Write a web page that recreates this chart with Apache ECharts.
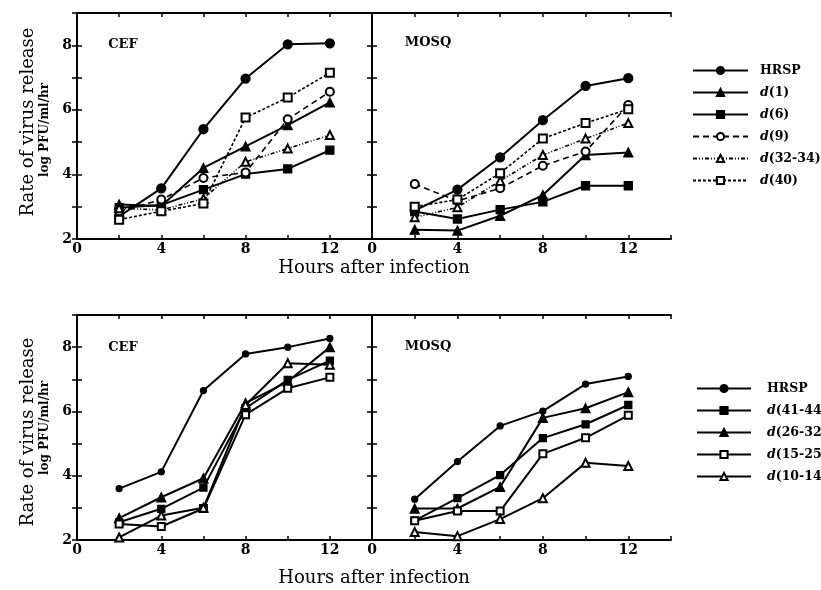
<!DOCTYPE html>
<html>
<head>
<meta charset="utf-8">
<script src="https://cdn.jsdelivr.net/npm/echarts@6/dist/echarts.min.js"></script>
<style>html,body{margin:0;padding:0;background:#fff}#c{width:821px;height:590px}</style>
</head>
<body>
<div id="c"></div>
<script>
// ---------- data ----------
const hours = [2, 4, 6, 8, 10, 12];
const xTickLabels = [0, 4, 8, 12];
const yTickLabels = [2, 4, 6, 8];

// Top row series names
const topNames = ['HRSP', 'd(1)', 'd(6)', 'd(9)', 'd(32-34)', 'd(40)'];
// Top row, CEF
const topCefHRSP = [2.7, 3.57, 5.4, 6.97, 8.03, 8.06];
const topCefD1 = [3.07, 3.02, 4.2, 4.87, 5.53, 6.23];
const topCefD6 = [2.97, 3.05, 3.53, 4.01, 4.17, 4.75];
const topCefD9 = [2.86, 3.22, 3.89, 4.06, 5.71, 6.56];
const topCefD3234 = [2.95, 2.9, 3.25, 4.39, 4.8, 5.22];
const topCefD40 = [2.6, 2.86, 3.1, 5.76, 6.38, 7.15];
// Top row, MOSQ
const topMosHRSP = [2.88, 3.53, 4.53, 5.68, 6.74, 6.98];
const topMosD1 = [2.29, 2.26, 2.72, 3.36, 4.6, 4.68];
const topMosD6 = [2.85, 2.62, 2.91, 3.15, 3.65, 3.65];
const topMosD9 = [3.7, 3.18, 3.57, 4.27, 4.71, 6.15];
const topMosD3234 = [2.67, 2.98, 3.8, 4.6, 5.11, 5.59];
const topMosD40 = [3.0, 3.22, 4.04, 5.11, 5.59, 6.02];

// Bottom row series names
const botNames = ['HRSP ', 'd(41-44)', 'd(26-32)', 'd(15-25)', 'd(10-14)'];
// Bottom row, CEF
const botCefHRSP = [3.6, 4.12, 6.65, 7.79, 8.0, 8.27];
const botCefD4144 = [2.55, 2.97, 3.63, 6.1, 6.98, 7.58];
const botCefD2632 = [2.68, 3.33, 3.92, 6.26, 6.93, 8.0];
const botCefD1525 = [2.5, 2.42, 2.98, 5.9, 6.72, 7.06];
const botCefD1014 = [2.08, 2.76, 3.0, 6.2, 7.5, 7.45];
// Bottom row, MOSQ
const botMosHRSP = [3.27, 4.44, 5.55, 6.01, 6.85, 7.09];
const botMosD4144 = [2.6, 3.3, 4.02, 5.17, 5.6, 6.2];
const botMosD2632 = [2.98, 2.98, 3.65, 5.8, 6.1, 6.6];
const botMosD1525 = [2.6, 2.9, 2.9, 4.68, 5.18, 5.88];
const botMosD1014 = [2.25, 2.12, 2.65, 3.3, 4.4, 4.3];

// ---------- styles ----------
const SERIF = '"DejaVu Serif", "Liberation Serif", serif';
const topStyles = [
  {symbol: 'circle', size: 9, dash: 'solid'},
  {symbol: 'triangle', size: 9, dash: 'solid'},
  {symbol: 'rect', size: 8, dash: 'solid'},
  {symbol: 'emptyCircle', size: 8, dash: [6, 4]},
  {symbol: 'emptyTriangle', size: 8, dash: [4, 2, 1, 2, 1, 2]},
  {symbol: 'emptyRect', size: 8, dash: [3, 2]}
];
const botStyles = [
  {symbol: 'circle', size: 6, dash: 'solid'},
  {symbol: 'rect', size: 7, dash: 'solid'},
  {symbol: 'triangle', size: 9, dash: 'solid'},
  {symbol: 'emptyRect', size: 7, dash: 'solid'},
  {symbol: 'emptyTriangle', size: 8, dash: 'solid'}
];

function pairs(vals) { return hours.map((h, i) => [h, vals[i]]); }

function mkSeries(name, vals, st, gridIdx) {
  return {
    type: 'line', name: name, data: pairs(vals),
    xAxisIndex: gridIdx * 2, yAxisIndex: gridIdx * 2,
    symbol: st.symbol, symbolSize: st.size,
    showAllSymbol: true, animation: false, silent: true,
    lineStyle: {color: '#000', width: st.dash === 'solid' ? 2 : 1.6, type: st.dash},
    itemStyle: {color: '#000', borderColor: '#000', borderWidth: 1.3}
  };
}

const grids = [
  {left: 77, top: 13, width: 295, height: 226},
  {left: 372, top: 13, width: 299, height: 226},
  {left: 77, top: 315, width: 295, height: 225},
  {left: 372, top: 315, width: 299, height: 225}
];

const xAxes = [], yAxes = [];
grids.forEach((g, i) => {
  const axisLine = {show: true, lineStyle: {color: '#000', width: 2}};
  xAxes.push({
    type: 'value', gridIndex: i, position: 'bottom', min: 0, max: 14, interval: 2,
    axisLine: axisLine, splitLine: {show: false},
    axisTick: {show: true, inside: true, length: 4, lineStyle: {color: '#000', width: 1.5}},
    axisLabel: {
      show: true, margin: 3, color: '#000', fontFamily: SERIF, fontWeight: 'bold', fontSize: 14,
      formatter: v => xTickLabels.indexOf(v) >= 0 ? String(v) : ''
    }
  });
  xAxes.push({
    type: 'value', gridIndex: i, position: 'top', min: 0, max: 14, interval: 2,
    axisLine: axisLine, splitLine: {show: false},
    axisTick: {show: true, inside: true, length: 4, lineStyle: {color: '#000', width: 1.5}},
    axisLabel: {show: false}
  });
  yAxes.push({
    type: 'value', gridIndex: i, position: 'left', min: 2, max: 9, interval: 1,
    axisLine: axisLine, splitLine: {show: false},
    axisTick: {show: true, inside: true, length: 5, lineStyle: {color: '#000', width: 1.5}},
    axisLabel: {
      show: i % 2 === 0, margin: 5, color: '#000', fontFamily: SERIF, fontWeight: 'bold', fontSize: 14,
      formatter: v => yTickLabels.indexOf(v) >= 0 ? String(v) : ''
    }
  });
  yAxes.push({
    type: 'value', gridIndex: i, position: 'right', min: 2, max: 9, interval: 1,
    axisLine: axisLine, splitLine: {show: false},
    axisTick: {show: true, inside: true, length: 5, lineStyle: {color: '#000', width: 1.5}},
    axisLabel: {show: false}
  });
});

const series = [];
const topCef = [topCefHRSP, topCefD1, topCefD6, topCefD9, topCefD3234, topCefD40];
const topMos = [topMosHRSP, topMosD1, topMosD6, topMosD9, topMosD3234, topMosD40];
const botCef = [botCefHRSP, botCefD4144, botCefD2632, botCefD1525, botCefD1014];
const botMos = [botMosHRSP, botMosD4144, botMosD2632, botMosD1525, botMosD1014];
topNames.forEach((n, k) => { series.push(mkSeries(n, topCef[k], topStyles[k], 0)); });
topNames.forEach((n, k) => { series.push(mkSeries(n, topMos[k], topStyles[k], 1)); });
botNames.forEach((n, k) => { series.push(mkSeries(n, botCef[k], botStyles[k], 2)); });
botNames.forEach((n, k) => { series.push(mkSeries(n, botMos[k], botStyles[k], 3)); });

function legendFmt(name) {
  const t = name.trim();
  if (t.charAt(0) === 'd') return '{i|d}{b|' + t.slice(1) + '}';
  return '{b|' + t + '}';
}
const LFS = 12.5;
function legendText(padLeft) {
  return {
    color: '#000', fontFamily: SERIF, fontWeight: 'bold', fontSize: LFS, padding: [0, 0, 0, padLeft],
    rich: {
      i: {fontFamily: SERIF, fontStyle: 'italic', fontWeight: 'bold', fontSize: LFS, color: '#000'},
      b: {fontFamily: SERIF, fontWeight: 'bold', fontSize: LFS, color: '#000'}
    }
  };
}

function txt(x, y, s, size, weight, rot) {
  return {
    type: 'text', x: x, y: y, rotation: rot || 0, silent: true,
    style: {text: s, fill: '#000', font: (weight || 'normal') + ' ' + size + 'px ' + SERIF,
      textAlign: 'center', textVerticalAlign: 'middle'}
  };
}

const option = {
  backgroundColor: '#fff',
  animation: false,
  grid: grids,
  xAxis: xAxes,
  yAxis: yAxes,
  series: series,
  legend: [
    {
      data: topNames, orient: 'vertical', left: 692, top: 64, padding: 0,
      itemWidth: 55, itemHeight: 9, itemGap: 9, selectedMode: false,
      formatter: legendFmt, textStyle: legendText(7)
    },
    {
      data: botNames, orient: 'vertical', left: 696, top: 382, padding: 0,
      itemWidth: 54, itemHeight: 9, itemGap: 9, selectedMode: false,
      formatter: legendFmt, textStyle: legendText(11)
    }
  ],
  graphic: [
    txt(28, 122, 'Rate of virus release', 18, 'normal', Math.PI / 2),
    txt(45, 130, 'log PFU/ml/hr', 12, 'bold', Math.PI / 2),
    txt(28, 432, 'Rate of virus release', 18, 'normal', Math.PI / 2),
    txt(45, 428, 'log PFU/ml/hr', 12, 'bold', Math.PI / 2),
    txt(374, 268, 'Hours after infection', 18, 'normal'),
    txt(374, 578, 'Hours after infection', 18, 'normal'),
    txt(123, 45, 'CEF', 13, 'bold'),
    txt(428, 43, 'MOSQ', 13, 'bold'),
    txt(123, 348, 'CEF', 13, 'bold'),
    txt(428, 347, 'MOSQ', 13, 'bold')
  ]
};

const chart = echarts.init(document.getElementById('c'), null, {renderer: 'canvas'});
chart.setOption(option);
</script>
</body>
</html>
